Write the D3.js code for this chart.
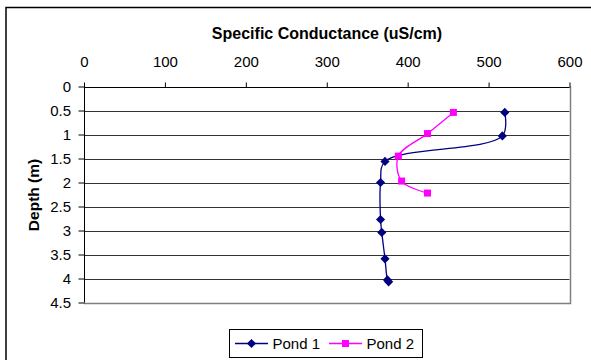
<!DOCTYPE html>
<html>
<head>
<meta charset="utf-8">
<script src="https://cdn.jsdelivr.net/npm/d3@7"></script>
<style>
  html, body { margin: 0; padding: 0; background: #fff; }
  svg { display: block; }
  text { font-family: "Liberation Sans", Arial, sans-serif; fill: #000; }
</style>
</head>
<body>
<svg id="chart" width="591" height="360"></svg>
<script>
// Specific conductance profiles (uS/cm) against depth (m)
const pond1Conductance = [520, 517, 372, 366.5, 366.5, 368, 372, 375, 376.5];
const pond1Depth       = [0.54, 1.03, 1.56, 2.0, 2.77, 3.04, 3.59, 4.03, 4.07];
const pond2Conductance = [456.5, 424.5, 388.5, 392.5, 424.5];
const pond2Depth       = [0.54, 0.98, 1.45, 1.97, 2.22];

const xTicks = [0, 100, 200, 300, 400, 500, 600];
const yTicks = [0, 0.5, 1, 1.5, 2, 2.5, 3, 3.5, 4, 4.5];
const seriesNames = ["Pond 1", "Pond 2"];
const seriesColors = ["#000080", "#FF00FF"];

const svg = d3.select("#chart");

// outer chart frame (left and top edges show inside the view)
svg.append("rect")
  .attr("x", 6).attr("y", 7.5)
  .attr("width", 700).attr("height", 500)
  .attr("fill", "none").attr("stroke", "#000").attr("stroke-width", 1.5);

const plot = { left: 84, right: 569.5, top: 86.5, bottom: 302.5 };

const x = d3.scaleLinear().domain([0, 600]).range([plot.left, plot.right]);
const y = d3.scaleLinear().domain([0, 4.5]).range([plot.top, plot.bottom]);

// horizontal gridlines
svg.append("g").selectAll("line")
  .data(yTicks.filter(d => d > 0 && d < 4.5))
  .join("line")
  .attr("x1", plot.left).attr("x2", plot.right)
  .attr("y1", d => Math.round(y(d)) + 0.5).attr("y2", d => Math.round(y(d)) + 0.5)
  .attr("stroke", "#333").attr("stroke-width", 1);

// plot-area border on right and bottom
svg.append("path")
  .attr("d", `M${Math.round(plot.right)+0.5},${plot.top} V${Math.round(plot.bottom)+0.5} H${plot.left}`)
  .attr("fill", "none").attr("stroke", "#808080").attr("stroke-width", 1.5);

// top (x) axis
const xAxis = d3.axisTop(x).tickValues(xTicks).tickSize(5).tickPadding(15.5)
  .tickFormat(d3.format("d"));
const gx = svg.append("g")
  .attr("transform", `translate(0,${Math.round(plot.top) + 0.5})`)
  .call(xAxis);
gx.select(".domain").attr("stroke", "#000").attr("d", `M${plot.left},0H${plot.right}`);
gx.selectAll(".tick line").attr("stroke", "#000");
gx.selectAll(".tick text")
  .style("font-family", "'Liberation Sans', Arial, sans-serif")
  .style("font-size", "15px").attr("fill", "#000");

// left (y) axis
const yAxis = d3.axisLeft(y).tickValues(yTicks).tickSize(6).tickPadding(7.5)
  .tickFormat(d => String(d));
const gy = svg.append("g")
  .attr("transform", `translate(${plot.left + 0.5},0)`)
  .call(yAxis);
gy.select(".domain").attr("stroke", "#000").attr("d", `M0,${plot.top}V${plot.bottom}`);
gy.selectAll(".tick line").attr("stroke", "#000");
gy.selectAll(".tick text")
  .style("font-family", "'Liberation Sans', Arial, sans-serif")
  .style("font-size", "15px").attr("fill", "#000");

// axis titles
svg.append("text")
  .attr("x", 327).attr("y", 39)
  .attr("text-anchor", "middle")
  .style("font-size", "16px").style("font-weight", "bold")
  .text("Specific Conductance (uS/cm)");

svg.append("text")
  .attr("transform", `translate(38.5,195) rotate(-90)`)
  .attr("text-anchor", "middle")
  .style("font-size", "15.5px").style("font-weight", "bold")
  .text("Depth (m)");

// square-proportioned diamond marker
const squareDiamond = {
  draw(context, size) {
    const r = Math.sqrt(size / 2);
    context.moveTo(0, -r);
    context.lineTo(r, 0);
    context.lineTo(0, r);
    context.lineTo(-r, 0);
    context.closePath();
  }
};

// series
const series = [
  { name: seriesNames[0], color: seriesColors[0], shape: squareDiamond, area: 42,
    pts: pond1Conductance.map((c, i) => [c, pond1Depth[i]]) },
  { name: seriesNames[1], color: seriesColors[1], shape: d3.symbolSquare, area: 49,
    pts: pond2Conductance.map((c, i) => [c, pond2Depth[i]]) }
];

const line = d3.line()
  .x(d => x(d[0])).y(d => y(d[1]))
  .curve(d3.curveCatmullRom.alpha(0.5));

series.forEach(s => {
  svg.append("path")
    .datum(s.pts)
    .attr("d", line)
    .attr("fill", "none")
    .attr("stroke", s.color)
    .attr("stroke-width", 1.3);
  svg.append("g").selectAll("path")
    .data(s.pts)
    .join("path")
    .attr("transform", d => `translate(${x(d[0])},${y(d[1])})`)
    .attr("d", d3.symbol().type(s.shape).size(s.area))
    .attr("fill", s.color);
});

// legend
const legend = svg.append("g");
legend.append("rect")
  .attr("x", 229.5).attr("y", 329.5).attr("width", 193).attr("height", 28)
  .attr("fill", "#fff").attr("stroke", "#000").attr("stroke-width", 1);

const legendItems = [
  { x0: 235, tx: 272.5 },
  { x0: 329, tx: 366.5 }
];
series.forEach((s, i) => {
  const it = legendItems[i];
  const ly = 343.5;
  legend.append("line")
    .attr("x1", it.x0).attr("x2", it.x0 + 33)
    .attr("y1", ly).attr("y2", ly)
    .attr("stroke", s.color).attr("stroke-width", 1.3);
  legend.append("path")
    .attr("transform", `translate(${it.x0 + 16.5},${ly})`)
    .attr("d", d3.symbol().type(s.shape).size(s.area))
    .attr("fill", s.color);
  legend.append("text")
    .attr("x", it.tx).attr("y", ly + 5.5)
    .style("font-size", "15px")
    .text(s.name);
});
</script>
</body>
</html>
